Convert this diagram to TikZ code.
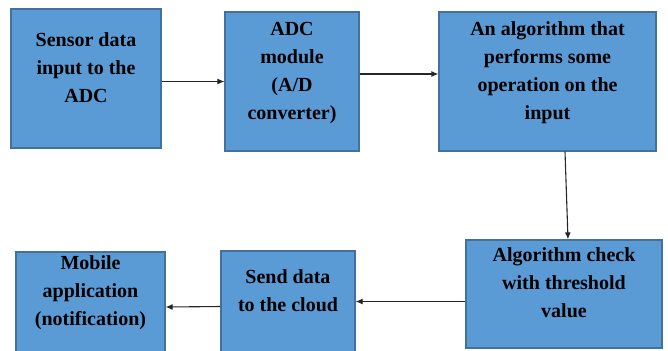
\documentclass[tikz,border=0pt]{standalone}
\usepackage{xcolor}
\usepackage{fontspec}
\usepackage{tikz}
\usetikzlibrary{positioning, arrows.meta}
\setmainfont{Liberation Serif}

\definecolor{boxfill}{HTML}{5B9BD5}
\definecolor{boxline}{HTML}{41719C}

\begin{document}
\begin{tikzpicture}[
    x=0.5pt, y=-0.5pt,
    blk/.style={draw=boxline, line width=0.6pt, fill=boxfill, align=center, inner sep=0pt,
        font=\fontsize{10}{14}\selectfont\bfseries, text depth=11pt},
    arr/.style={draw=black!85, line width=0.55pt, -{Latex[length=3.5pt, width=3pt]}}
]
\useasboundingbox (0, 0) rectangle (668, 350);

\node[blk, minimum width=75pt, minimum height=69.5pt] (sensor) at (86, 78.5) {Sensor data\\input to the\\ADC};
\node[blk, minimum width=67pt, minimum height=69.5pt] (adc) at (292, 81.5) {ADC\\module\\(A/D\\converter)};
\node[blk, minimum width=108.5pt, minimum height=69.5pt] (algo) at (547.5, 81.5) {An algorithm that\\performs some\\operation on the\\input};
\node[blk, minimum width=98pt, minimum height=54pt] (check) at (564, 294) {Algorithm check\\with threshold\\value};
\node[blk, minimum width=67pt, minimum height=50.5pt] (send) at (288, 301.5) {Send data\\to the cloud};
\node[blk, minimum width=74.5pt, minimum height=50pt] (mobile) at (90.5, 302) {Mobile\\application\\(notification)};

\draw[arr] (sensor.east |- adc.west) -- (adc.west);
\draw[arr] ([yshift=3.75pt]adc.east) -- ([yshift=3.75pt]algo.west);
\draw[arr] ([xshift=8.75pt]algo.south) -- ([xshift=2pt]check.north);
\draw[arr] (check.west |- send.east) -- (send.east);
\draw[arr] ([yshift=-2.5pt]send.west) -- ([yshift=-2.5pt]mobile.east);
\end{tikzpicture}
\end{document}
